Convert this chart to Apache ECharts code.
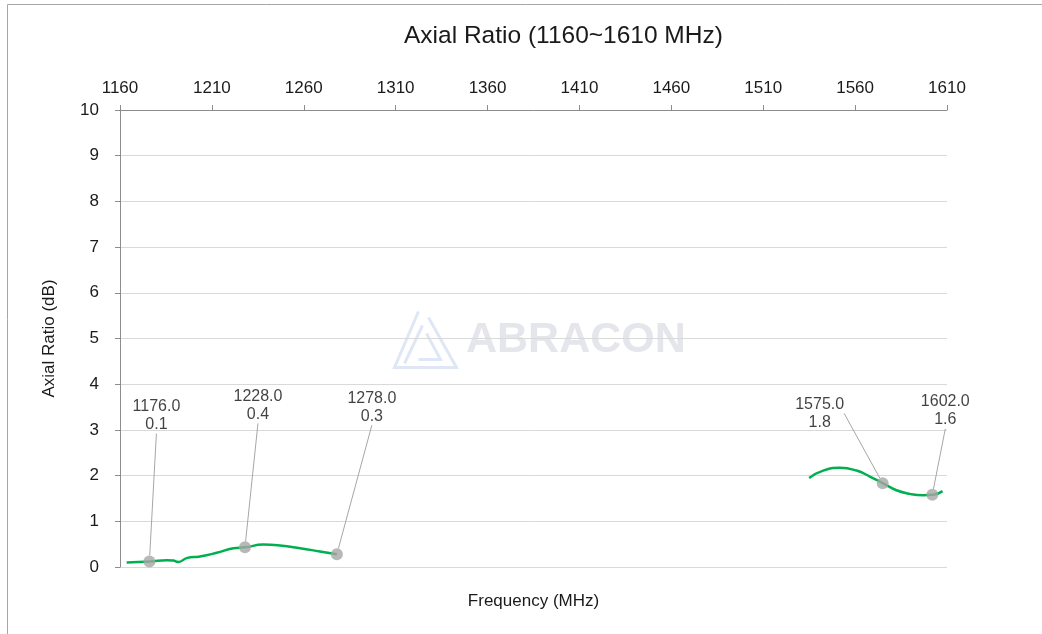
<!DOCTYPE html>
<html>
<head>
<meta charset="utf-8">
<script src="https://cdn.jsdelivr.net/npm/echarts@6/dist/echarts.min.js"></script>
<style>
  html, body { margin: 0; padding: 0; background: #fff; }
  #chart { width: 1042px; height: 634px; }
</style>
</head>
<body>
<div id="chart"></div>
<script>
// low band curve, frequency (MHz) / axial ratio (dB)
const lowFreq = [1163.6, 1176.3, 1185.4, 1189, 1191.7, 1196.6, 1203.5, 1212.6, 1221.7, 1228, 1238, 1247, 1258, 1268.8, 1278]
const lowAR = [0.10, 0.12, 0.15, 0.14, 0.11, 0.20, 0.23, 0.31, 0.41, 0.43, 0.49, 0.47, 0.41, 0.34, 0.28]

// high band curve
const highFreq = [1535, 1542.6, 1551.7, 1560.8, 1568, 1575.3, 1582.5, 1589.8, 1597, 1602.5, 1607.6]
const highAR = [1.95, 2.11, 2.17, 2.11, 1.98, 1.83, 1.68, 1.60, 1.57, 1.58, 1.66]

// marked points
const markFreq = [1176, 1228, 1278, 1575, 1602]
const markAR = [0.12, 0.43, 0.28, 1.83, 1.58]

// label offsets from marker, px
const labelOffsets = [[7, -146], [13, -142], [35, -147], [-63, -70], [13, -84]]

const zip = (xs, ys) => xs.map((x, i) => [x, ys[i]])

const chart = echarts.init(document.getElementById('chart'))
const textColor = '#1a1a1a'
const axisGrey = '#8c8c8c'
const font = 'Liberation Sans, Arial, sans-serif'
const logoBlue = 'rgba(196,212,240,0.55)'

chart.setOption({
  animation: false,
  textStyle: { fontFamily: font },
  title: {
    text: 'Axial Ratio (1160~1610 MHz)',
    left: 399,
    top: 19,
    textStyle: { color: textColor, fontSize: 24.5, fontWeight: 'normal', fontFamily: font }
  },
  graphic: [
    {
      type: 'rect',
      shape: { x: 7.5, y: 4.5, width: 1200, height: 800 },
      style: { fill: 'none', stroke: '#a6a6a6', lineWidth: 1 },
      silent: true,
      z: -10
    },
    {
      type: 'group',
      left: 392,
      top: 309,
      silent: true,
      z: -5,
      children: [
        {
          type: 'polyline',
          shape: { points: [[26, 0], [2, 56], [64, 56], [36, 6]] },
          style: { fill: 'none', stroke: logoBlue, lineWidth: 3 }
        },
        {
          type: 'polyline',
          shape: { points: [[30, 14], [12, 52]] },
          style: { fill: 'none', stroke: logoBlue, lineWidth: 3 }
        },
        {
          type: 'polyline',
          shape: { points: [[34, 22], [48, 48], [26, 48]] },
          style: { fill: 'none', stroke: logoBlue, lineWidth: 3 }
        }
      ]
    },
    {
      type: 'text',
      left: 466,
      top: 319,
      silent: true,
      z: -5,
      style: {
        text: 'ABRACON',
        fill: '#e4e6ec',
        font: 'bold 43px Liberation Sans, Arial, sans-serif'
      }
    }
  ],
  grid: { left: 120, right: 95, top: 110, bottom: 67, containLabel: false },
  xAxis: [
    {
      type: 'value',
      position: 'top',
      min: 1160,
      max: 1610,
      interval: 50,
      axisLine: { show: true, onZero: false, lineStyle: { color: axisGrey, width: 1 } },
      axisTick: { show: true, length: 5, lineStyle: { color: axisGrey } },
      axisLabel: { color: textColor, fontSize: 17, margin: 13, formatter: (v) => String(v) },
      splitLine: { show: false }
    },
    {
      type: 'value',
      position: 'bottom',
      min: 1160,
      max: 1610,
      name: 'Frequency (MHz)',
      nameLocation: 'middle',
      nameGap: 26,
      nameTextStyle: { color: textColor, fontSize: 17 },
      axisLine: { show: false, onZero: false },
      axisTick: { show: false },
      axisLabel: { show: false },
      splitLine: { show: false }
    }
  ],
  yAxis: {
    type: 'value',
    min: 0,
    max: 10,
    interval: 1,
    name: 'Axial Ratio (dB)',
    nameLocation: 'middle',
    nameGap: 62,
    nameTextStyle: { color: textColor, fontSize: 17 },
    axisLine: { show: true, lineStyle: { color: axisGrey, width: 1 } },
    axisTick: { show: true, length: 5, lineStyle: { color: axisGrey } },
    axisLabel: { color: textColor, fontSize: 17, margin: 21 },
    splitLine: { lineStyle: { color: '#d9d9d9', width: 1 } }
  },
  series: [
    {
      type: 'line',
      data: zip(lowFreq, lowAR),
      smooth: true,
      showSymbol: false,
      lineStyle: { color: '#00b050', width: 2.5 },
      itemStyle: { color: '#00b050' },
      z: 2
    },
    {
      type: 'line',
      data: zip(highFreq, highAR),
      smooth: true,
      showSymbol: false,
      lineStyle: { color: '#00b050', width: 2.5 },
      itemStyle: { color: '#00b050' },
      z: 2
    },
    {
      type: 'scatter',
      data: zip(markFreq, markAR),
      symbolSize: 12,
      itemStyle: { color: '#a6a6a6' },
      z: 3,
      label: {
        show: true,
        position: 'inside',
        align: 'center',
        verticalAlign: 'middle',
        color: '#111',
        textBorderWidth: 0,
        textBorderColor: 'transparent',
        fontSize: 16,
        lineHeight: 18,
        formatter: (p) => p.value[0].toFixed(1) + '\n' + p.value[1].toFixed(1)
      },
      labelLine: {
        show: true,
        lineStyle: { color: '#a6a6a6', width: 1 }
      },
      labelLayout: (p) => ({
        dx: labelOffsets[p.dataIndex][0],
        dy: labelOffsets[p.dataIndex][1]
      })
    }
  ]
})
</script>
</body>
</html>
